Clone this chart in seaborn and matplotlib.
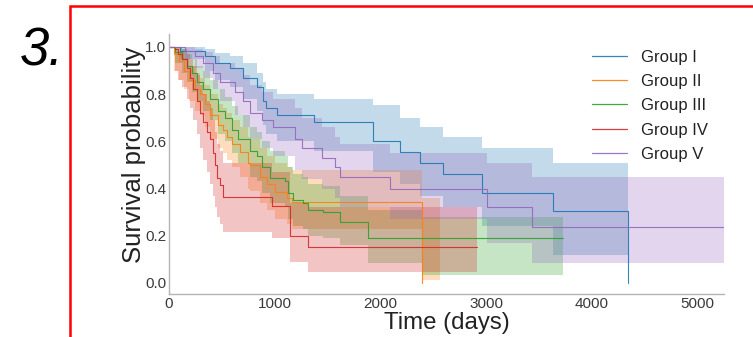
import numpy as np
import pandas as pd
import matplotlib
matplotlib.use("Agg")
import matplotlib.pyplot as plt
import seaborn as sns
from matplotlib.patches import Rectangle

# ---------------- data ----------------
group_names = ["Group I", "Group II", "Group III", "Group IV", "Group V"]

g1_t = [0, 104, 340, 435, 577, 700, 832, 889, 918, 1022, 1372, 1930, 2185, 2374, 2592, 2961, 3633, 4342]
g1_s = [1.0, 0.983, 0.96, 0.93, 0.91, 0.87, 0.83, 0.77, 0.74, 0.71, 0.68, 0.60, 0.555, 0.51, 0.46, 0.38, 0.305, 0.0]
g1_hi = [1.0, 1.0, 0.99, 0.975, 0.96, 0.93, 0.89, 0.85, 0.82, 0.80, 0.78, 0.755, 0.70, 0.66, 0.62, 0.57, 0.51, 0.51]
g1_lo = [1.0, 0.95, 0.90, 0.86, 0.83, 0.78, 0.73, 0.67, 0.63, 0.60, 0.56, 0.47, 0.42, 0.37, 0.32, 0.24, 0.12, 0.12]

g2_t = [0, 47, 95, 142, 189, 246, 293, 340, 388, 464, 511, 549, 596, 672, 747, 766, 861, 927, 1003, 1116, 1164, 2393, 2564]
g2_s = [1.0, 0.97, 0.94, 0.90, 0.86, 0.82, 0.80, 0.76, 0.71, 0.67, 0.65, 0.62, 0.59, 0.555, 0.51, 0.50, 0.45, 0.42, 0.385, 0.36, 0.345, 0.0, 0.0]
g2_hi = [1.0, 0.99, 0.98, 0.95, 0.92, 0.89, 0.87, 0.84, 0.80, 0.76, 0.74, 0.72, 0.69, 0.66, 0.62, 0.61, 0.57, 0.54, 0.51, 0.49, 0.48, 0.36, 0.36]
g2_lo = [1.0, 0.90, 0.86, 0.82, 0.77, 0.73, 0.71, 0.66, 0.61, 0.57, 0.55, 0.52, 0.49, 0.45, 0.40, 0.39, 0.34, 0.31, 0.27, 0.25, 0.23, 0.013, 0.013]

g3_t = [0, 57, 123, 170, 218, 265, 322, 388, 464, 530, 596, 653, 766, 832, 880, 955, 1097, 1126, 1173, 1268, 1315, 1457, 1618, 1883, 2393, 3727]
g3_s = [1.0, 0.98, 0.95, 0.92, 0.89, 0.85, 0.82, 0.78, 0.73, 0.70, 0.65, 0.61, 0.56, 0.54, 0.49, 0.445, 0.43, 0.38, 0.35, 0.34, 0.31, 0.30, 0.26, 0.19, 0.19, 0.19]
g3_hi = [1.0, 1.0, 0.99, 0.97, 0.95, 0.92, 0.90, 0.86, 0.82, 0.79, 0.75, 0.71, 0.66, 0.64, 0.60, 0.56, 0.54, 0.49, 0.46, 0.45, 0.42, 0.41, 0.37, 0.31, 0.28, 0.28]
g3_lo = [1.0, 0.93, 0.89, 0.85, 0.81, 0.77, 0.73, 0.69, 0.63, 0.60, 0.55, 0.51, 0.45, 0.43, 0.38, 0.34, 0.32, 0.27, 0.24, 0.23, 0.20, 0.19, 0.16, 0.085, 0.034, 0.034]

g4_t = [0, 57, 85, 123, 170, 199, 227, 265, 293, 322, 359, 388, 416, 435, 454, 482, 511, 974, 1145, 1315, 2914]
g4_s = [1.0, 0.99, 0.97, 0.95, 0.91, 0.87, 0.82, 0.77, 0.72, 0.68, 0.64, 0.61, 0.55, 0.50, 0.445, 0.415, 0.365, 0.325, 0.20, 0.153, 0.153]
g4_hi = [1.0, 1.0, 1.0, 0.99, 0.97, 0.95, 0.92, 0.88, 0.84, 0.80, 0.77, 0.74, 0.69, 0.64, 0.59, 0.56, 0.51, 0.47, 0.34, 0.32, 0.32]
g4_lo = [1.0, 0.90, 0.86, 0.83, 0.78, 0.74, 0.69, 0.63, 0.57, 0.52, 0.47, 0.42, 0.37, 0.32, 0.28, 0.25, 0.215, 0.19, 0.09, 0.047, 0.047]

g5_t = [0, 151, 246, 322, 416, 482, 624, 700, 766, 880, 984, 1192, 1258, 1447, 1570, 1618, 2091, 3008, 3434, 5250]
g5_s = [1.0, 0.985, 0.96, 0.93, 0.89, 0.85, 0.81, 0.77, 0.72, 0.69, 0.66, 0.61, 0.57, 0.53, 0.49, 0.45, 0.40, 0.32, 0.237, 0.237]
g5_hi = [1.0, 1.0, 0.99, 0.98, 0.96, 0.93, 0.91, 0.88, 0.84, 0.81, 0.78, 0.74, 0.70, 0.66, 0.62, 0.59, 0.55, 0.51, 0.45, 0.45]
g5_lo = [1.0, 0.95, 0.91, 0.87, 0.82, 0.77, 0.71, 0.66, 0.61, 0.57, 0.54, 0.48, 0.44, 0.40, 0.36, 0.32, 0.27, 0.17, 0.085, 0.085]

x_ticks = [0, 1000, 2000, 3000, 4000, 5000]
y_ticks = [0.0, 0.2, 0.4, 0.6, 0.8, 1.0]

frames = []
for name, t, s, lo, hi in zip(
        group_names,
        [g1_t, g2_t, g3_t, g4_t, g5_t],
        [g1_s, g2_s, g3_s, g4_s, g5_s],
        [g1_lo, g2_lo, g3_lo, g4_lo, g5_lo],
        [g1_hi, g2_hi, g3_hi, g4_hi, g5_hi]):
    frames.append(pd.DataFrame({"group": name, "time": t, "surv": s, "lo": lo, "hi": hi}))
df = pd.concat(frames, ignore_index=True)

# ---------------- style ----------------
sns.set_style("white")
plt.rcParams["font.family"] = ["Liberation Sans", "DejaVu Sans"]

W, H = 753, 337
fig = plt.figure(figsize=(W / 100, H / 100), dpi=100)
ax = fig.add_axes([169 / W, (H - 294) / H, (724 - 169) / W, (294 - 34) / H])

palette = sns.color_palette("tab10")[:5]
for i, name in enumerate(group_names):
    d = df[df["group"] == name]
    ax.fill_between(d["time"], d["lo"], d["hi"], step="post",
                    color=palette[i], alpha=0.27, lw=0)
for i, name in enumerate(group_names):
    d = df[df["group"] == name]
    if name == "Group II":
        d = d.iloc[:-1]
    sns.lineplot(x=d["time"].values, y=d["surv"].values, drawstyle="steps-post",
                 color=palette[i], lw=0.8, alpha=0.9, ax=ax, estimator=None,
                 sort=False, label=name)

ax.set_xlim(0, 5250)
ax.set_ylim(-0.047, 1.055)
ax.set_xticks(x_ticks)
ax.set_yticks(y_ticks)
ax.set_yticklabels([f"{v:.1f}" for v in y_ticks])
ax.tick_params(axis="both", length=0, labelsize=11, labelcolor="#3a3a3a", pad=2.0)
for side in ["top", "right"]:
    ax.spines[side].set_visible(False)
for side in ["left", "bottom"]:
    ax.spines[side].set_color("#b5b5b5")
    ax.spines[side].set_linewidth(1.0)

ax.set_xlabel("Time (days)", fontsize=17.3, color="#222222")
ax.set_ylabel("Survival probability", fontsize=18.5, color="#222222")
ax.xaxis.set_label_coords(0.5, -0.068)
ax.yaxis.set_label_coords(-0.042, 0.535)

leg = ax.legend(loc="upper left", bbox_to_anchor=(585 / W, (H - 43) / H),
                bbox_transform=fig.transFigure, frameon=False, fontsize=12,
                handlelength=2.1, handletextpad=0.85, labelspacing=0.56,
                borderaxespad=0)
for line in leg.get_lines():
    line.set_linewidth(0.9)
for txt in leg.get_texts():
    txt.set_color("#222222")

# red frame and panel label
fig.patches.append(Rectangle((70 / W, -0.5), 2.0, (H - 6) / H + 0.5,
                             transform=fig.transFigure, fill=False,
                             edgecolor="#ff0000", lw=1.8, clip_on=False))
fig.text(20 / W, (H - 65) / H, "3.", fontsize=38, style="italic",
         ha="left", va="baseline", color="black")

fig.savefig("out.png", dpi=100)
